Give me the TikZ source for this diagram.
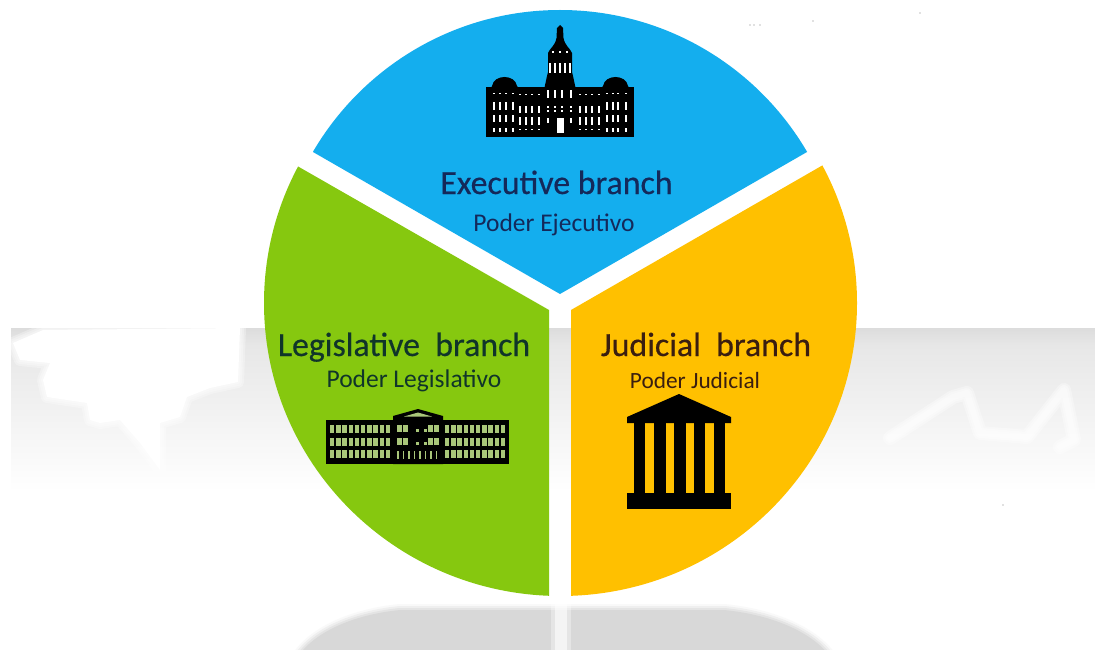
\documentclass[tikz,border=0pt]{standalone}
\usepackage{fontspec}
\setmainfont{Carlito}
\newfontfamily\heavyfont[FakeBold=0.45]{Carlito}
\definecolor{bluesec}{HTML}{14AEEE}
\definecolor{greensec}{HTML}{86C80F}
\definecolor{yellowsec}{HTML}{FFC000}
\definecolor{bandgray}{HTML}{DCDCDC}
\definecolor{bandmid}{HTML}{E7E7E7}
\definecolor{shadowgray}{HTML}{D8D8D8}
\definecolor{navytext}{HTML}{14295A}
\definecolor{greentext}{HTML}{10352A}
\definecolor{yellowtext}{HTML}{3A1E10}
\definecolor{wingreen}{HTML}{A9C67A}
\tikzset{
  big/.style={inner sep=0pt,anchor=base,font=\heavyfont\fontsize{33.8}{38}\selectfont},
  small/.style={inner sep=0pt,anchor=base,font=\fontsize{25.5}{30}\selectfont},
  smaller/.style={inner sep=0pt,anchor=base,font=\fontsize{23.3}{28}\selectfont},
  icon/.style={fill=black,draw=none},
  win/.style={fill=white,draw=none},
  gwin/.style={fill=wingreen,draw=none},
  soft/.style={draw=white,line join=round,line cap=round}
}
\begin{document}
\begin{tikzpicture}[x=1pt,y=-1pt]
\useasboundingbox (0,0) rectangle (1095,650);
\fill[white] (0,0) rectangle (1095,650);
% grey horizon band
\shade[top color=bandgray,bottom color=bandmid] (11,328) rectangle (1095,345);
\shade[top color=bandmid,bottom color=white] (11,345) rectangle (1095,492);
% torn white shapes, left
\def\tornL{(13,343) -- (43,330) -- (240,328) -- (238,382) -- (210,388) -- (187,397) -- (180,417) -- (160,423) -- (160,470) -- (140,443) -- (120,420) -- (100,423) -- (90,420) -- (87,403) -- (47,397) -- (43,380) -- (50,363) -- (20,360) -- cycle}
\foreach \w in {12,8,4}{\draw[soft,line width=\w pt,opacity=.3] \tornL;}
\fill[white] \tornL;
% torn white strokes, right
\def\tornR{(890,438) -- (953,397) -- (967,393) -- (980,433) -- (1027,437) -- (1064,390) -- (1074,440) -- (1060,447)}
\foreach \w in {14,10,6}{\draw[soft,line width=\w pt,opacity=.35] \tornR;}
% bottom shadow
\def\shadowpath{(297,658) .. controls (312,634) and (350,615) .. (400,610) -- (724,610) .. controls (775,615) and (815,634) .. (831,658) -- cycle}
\draw[shadowgray!15,line width=12pt,line join=round] \shadowpath;
\draw[shadowgray!40,line width=8pt,line join=round] \shadowpath;
\draw[shadowgray!70,line width=4pt,line join=round] \shadowpath;
\fill[shadowgray] \shadowpath;
\fill[white,opacity=.35] (551,598) rectangle (571,650);
\fill[white,opacity=.6] (555,598) rectangle (567,650);
% scan specks
\foreach \x/\y in {750/25,754/25,760/25,813/21,920/13,1003/505}{\fill[gray] (\x,\y) circle[radius=.6];}
% sectors
\begin{scope}
  \clip (313,152) -- (560,294) -- (807,152) -- (807,0) -- (313,0) -- cycle;
  \fill[bluesec] (560,296) circle[radius=286];
\end{scope}
\begin{scope}
  \clip (250,139) -- (549,310) -- (549,600) -- (250,600) -- cycle;
  \fill[greensec] (560.5,303) ellipse[x radius=296.5,y radius=293];
\end{scope}
\begin{scope}
  \clip (870,138) -- (571,310) -- (571,600) -- (870,600) -- cycle;
  \fill[yellowsec] (560.5,303) ellipse[x radius=296.5,y radius=293];
\end{scope}
% executive building
\fill[icon] (486,87) rectangle (634,137);
\fill[icon] (490,90) -- (492,86) .. controls (494,74) and (515,74) .. (517,86) -- (520,90) -- cycle;
\fill[icon] (600,90) -- (603,86) .. controls (605,74) and (626,74) .. (628,86) -- (630,90) -- cycle;
\fill[icon] (544,90) -- (547,76) -- (548,72) -- (548,53) .. controls (550,48) and (555,46) .. (556.5,38) -- (557,28) -- (560,25) -- (563,28) -- (563.5,38) .. controls (565,46) and (570,48) .. (572,53) -- (572,72) -- (573,76) -- (576,90) -- cycle;
\foreach \x in {494,500,506,513,607,613,618,626}{
  \fill[win] (\x-1.2,102) rectangle (\x+1.2,110);
  \fill[win] (\x-1.2,115) rectangle (\x+1.2,122.5);
  \fill[win] (\x-1.1,128) rectangle (\x+1.1,132);
  \fill[win] (\x-.8,93) rectangle (\x+.8,94.5);
}
\foreach \x in {520,526,532,539,580,586,592,599}{
  \fill[win] (\x-1.2,106) rectangle (\x+1.2,113);
  \fill[win] (\x-1.2,117) rectangle (\x+1.2,125);
  \fill[win] (\x-1,129) rectangle (\x+1,130.2);
  \fill[win] (\x-.8,94) rectangle (\x+.8,95.5);
}
\foreach \x in {548,555,562,571}{
  \fill[win] (\x-1.2,90) rectangle (\x+1.2,98);
  \fill[win] (\x-.8,106) rectangle (\x+.8,108);
  \fill[win] (\x-.8,110) rectangle (\x+.8,112);
}
\foreach \x in {548,571}{\fill[win] (\x-1,118) rectangle (\x+1,123);}
\fill[win] (557,118) rectangle (564,133);
\foreach \x in {550,555,560,565,570}{\fill[win] (\x-1.3,63) rectangle (\x+1.3,73);}
\foreach \x in {553,560,567}{\fill[win] (\x-.9,51) rectangle (\x+.9,53);}
% legislative building
\fill[icon] (326,420) rectangle (509,464);
\fill[icon] (393,416) -- (418,409) -- (443,416) -- (443,464) -- (393,464) -- cycle;
\fill[gwin] (404,416.5) -- (418,412.5) -- (432,416.5) -- cycle;
\foreach \x in {330,336.2,...,390}{\foreach \y in {425,438,450}{\fill[gwin] (\x,\y) rectangle (\x+4.4,\y+7.5);}}
\foreach \x in {445,451.2,...,505}{\foreach \y in {425,438,450}{\fill[gwin] (\x,\y) rectangle (\x+4.4,\y+7.5);}}
\foreach \x in {397,403,428,434}{\foreach \y in {425,438}{\fill[gwin] (\x,\y) rectangle (\x+5,\y+6.5);}}
\foreach \x in {397,402.5,...,438}{\fill[gwin] (\x,451) rectangle (\x+1.6,459);}
\foreach \x in {416,424}{\foreach \y in {429,442}{\fill[gwin] (\x,\y) rectangle (\x+2.5,\y+2.5);}}
% judicial building
\fill[icon] (679,394) -- (731,417) -- (731,423) -- (627,423) -- (627,417) -- cycle;
\foreach \a/\b in {634/645,654/666,674/686,694/705,714/725}{\fill[icon] (\a,423) rectangle (\b,494);}
\fill[icon] (627,493) rectangle (731,509);
% labels
\node[big,text=navytext] (exec) at (556.5,194) {Executi\kern0pt ve branch};
\node[small,text=navytext] (execs) at (554,231) {Poder Ejecutivo};
\node[big,text=greentext] (leg) at (404,356) {Legislati\kern0pt ve\ \ branch};
\node[small,text=greentext] (legs) at (414,387) {Poder Legislativo};
\node[big,text=yellowtext] (jud) at (706,356) {Judicial\ \ branch};
\node[smaller,text=yellowtext] (juds) at (695,388) {Poder Judicial};
\end{tikzpicture}
\end{document}
